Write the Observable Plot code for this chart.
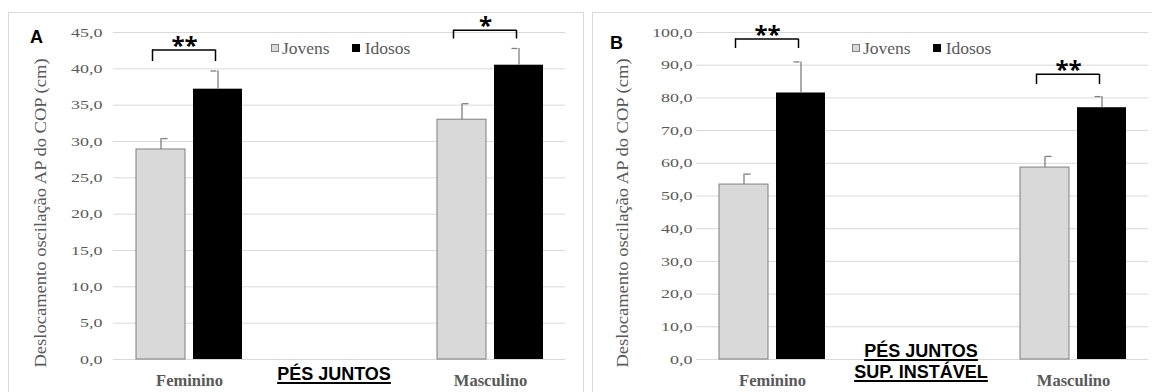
<!DOCTYPE html>
<html><head><meta charset="utf-8">
<script src="https://cdn.jsdelivr.net/npm/d3@7"></script>
<script src="https://cdn.jsdelivr.net/npm/@observablehq/plot@0.6"></script>
<style>
html,body{margin:0;padding:0;background:#fff;}
body{width:1152px;height:392px;overflow:hidden;position:relative;}
.box{position:absolute;top:12px;height:420px;border:1px solid #d9d9d9;box-sizing:border-box;}
.letter{position:absolute;font-family:"Liberation Sans",Arial,sans-serif;font-weight:bold;font-size:18px;line-height:18px;color:#000;}
.cond{position:absolute;width:220px;text-align:center;font-family:"Liberation Sans",Arial,sans-serif;font-weight:700;font-size:18px;line-height:18px;color:#000;text-decoration:underline;text-decoration-thickness:1.5px;text-underline-offset:1.5px;white-space:nowrap;}
.legend{position:absolute;top:39px;display:flex;align-items:center;font-family:"Liberation Serif",serif;font-size:17.5px;line-height:18px;color:#595959;}
.sw{width:8px;height:8px;box-sizing:border-box;display:inline-block;margin-right:3px;}
</style></head><body>
<script>
// ---- data ----
const categories = ["Feminino", "Masculino"];
const groups = ["Jovens", "Idosos"];
const yTitle = "Deslocamento oscilação AP do COP (cm)";

// Panel A — PÉS JUNTOS
const A_jovens = [28.9, 33.0];
const A_jovensErr = [1.5, 2.2];
const A_idosos = [37.2, 40.5];
const A_idososErr = [2.5, 2.3];
const A_sig = ["**", "*"];
const A_bracketTop = [42.6, 45.3];
const A_bracketLeg = [41.0, 44.1];
const A_ticks = [0, 5, 10, 15, 20, 25, 30, 35, 40, 45];
const A_condition = ["PÉS JUNTOS"];

// Panel B — PÉS JUNTOS SUP. INSTÁVEL
const B_jovens = [53.5, 58.7];
const B_jovensErr = [3.2, 3.4];
const B_idosos = [81.5, 77.0];
const B_idososErr = [9.5, 3.4];
const B_sig = ["**", "**"];
const B_bracketTop = [98.0, 87.2];
const B_bracketLeg = [95.1, 84.1];
const B_ticks = [0, 10, 20, 30, 40, 50, 60, 70, 80, 90, 100];
const B_condition = ["PÉS JUNTOS", "SUP. INSTÁVEL"];

const fmt = d => d.toFixed(1).replace(".", ",");

function panel(cfg) {
  const J = categories.map((c, i) => ({cat: c, group: groups[0], v: cfg.jov[i], e: cfg.jovErr[i]}));
  const I = categories.map((c, i) => ({cat: c, group: groups[1], v: cfg.ido[i], e: cfg.idoErr[i]}));
  const S = categories.map((c, i) => ({cat: c, label: cfg.sig[i], top: cfg.top[i], leg: cfg.leg[i]}));
  const BW = 106, BAR = 49, off = (BW - BAR) / 2;
  const svg = Plot.plot({
    width: cfg.width, height: 392,
    marginLeft: cfg.ml, marginRight: cfg.mr, marginTop: 32, marginBottom: 33,
    style: {fontFamily: "Liberation Serif", fontSize: "14px", color: "#595959", background: "transparent", overflow: "visible"},
    x: {domain: categories, paddingInner: 0.648, paddingOuter: 0.0742, label: null},
    y: {domain: [0, cfg.ticks[cfg.ticks.length - 1]], label: null},
    marks: [
      Plot.gridY(cfg.ticks, {stroke: "#d9d9d9", strokeOpacity: 1, strokeWidth: 1}),
      Plot.axisY(cfg.ticks, {tickSize: 0, tickPadding: cfg.tp, tickFormat: fmt, fill: "#595959", fontSize: 13, fontFamily: "Liberation Serif", label: null}),
      Plot.axisX({tickSize: 0, tickPadding: 15, fontWeight: "bold", fontSize: 16.5, fontFamily: "Liberation Serif", fill: "#595959", label: null}),
      Plot.barY(J, {x: "cat", y: "v", fill: "#d9d9d9", stroke: "#7f7f7f", strokeWidth: 1, insetRight: BW - BAR}),
      Plot.barY(I, {x: "cat", y: "v", fill: "#000", insetLeft: BW - BAR}),
      Plot.ruleX(J, {x: "cat", y1: "v", y2: d => d.v + d.e, stroke: "#7f7f7f", strokeWidth: 1.3, dx: -off}),
      Plot.ruleX(I, {x: "cat", y1: "v", y2: d => d.v + d.e, stroke: "#7f7f7f", strokeWidth: 1.3, dx: off}),
      Plot.tickY(J, {x: "cat", y: d => d.v + d.e, stroke: "#7f7f7f", strokeWidth: 1.3, insetLeft: off - 3, insetRight: BW - off - 3}),
      Plot.tickY(I, {x: "cat", y: d => d.v + d.e, stroke: "#7f7f7f", strokeWidth: 1.3, insetLeft: BW - off - 3, insetRight: off - 3}),
      Plot.tickY(S, {x: "cat", y: "top", stroke: "#000", strokeWidth: 1.5, insetLeft: 16, insetRight: 27}),
      Plot.ruleX(S, {x: "cat", y1: "leg", y2: "top", stroke: "#000", strokeWidth: 1.5, dx: -37}),
      Plot.ruleX(S, {x: "cat", y1: "leg", y2: "top", stroke: "#000", strokeWidth: 1.5, dx: 26}),
      Plot.text(S, {x: "cat", y: "top", text: "label", dx: -5, dy: 4, fontFamily: "Open Sans", fontWeight: "bold", fontSize: 24, fill: "#000", textAnchor: "middle", lineAnchor: "bottom"}),
      Plot.text([yTitle], {text: d => d, frameAnchor: "left", rotate: -90, dx: cfg.tdx, dy: 17, fontFamily: "Liberation Serif", fontSize: 16, fill: "#595959", textAnchor: "middle"})
    ]
  });
  // widen glyphs along the text direction (the reference text is stretched)
  const stretch = (sel, sx) => sel.each(function () {
    const t = d3.select(this);
    const tr = t.attr("transform");
    if (tr) t.attr("transform", tr + ` scale(${sx},1)`);
    else {
      const x = +t.attr("x") || 0, y = +t.attr("y") || 0;
      t.attr("x", null).attr("y", null).attr("transform", `translate(${x},${y}) scale(${sx},1)`);
    }
  });
  const s = d3.select(svg);
  stretch(s.selectAll("g[aria-label='y-axis tick label'] text"), 1.38);
  stretch(s.selectAll("text").filter(function () { return this.textContent === yTitle; }), 1.16);
  return svg;
}

function add(cls, css, html) {
  const d = document.createElement("div");
  d.className = cls;
  Object.assign(d.style, css);
  if (html != null) d.textContent = html;
  document.body.appendChild(d);
  return d;
}

add("box", {left: "8px", width: "576px"});
add("box", {left: "592px", width: "600px"});

const pa = panel({width: 575, ml: 105, mr: 18, tp: 11, tdx: -73, jov: A_jovens, jovErr: A_jovensErr, ido: A_idosos, idoErr: A_idososErr, sig: A_sig, top: A_bracketTop, leg: A_bracketLeg, ticks: A_ticks});
Object.assign(pa.style, {position: "absolute", left: "8px", top: "0px"});
document.body.appendChild(pa);

const pb = panel({width: 560, ml: 104, mr: 4, tp: 4, tdx: -74, jov: B_jovens, jovErr: B_jovensErr, ido: B_idosos, idoErr: B_idososErr, sig: B_sig, top: B_bracketTop, leg: B_bracketLeg, ticks: B_ticks});
Object.assign(pb.style, {position: "absolute", left: "592px", top: "0px"});
document.body.appendChild(pb);

add("letter", {left: "30px", top: "28px"}, "A");
add("letter", {left: "610px", top: "34px"}, "B");

A_condition.forEach((t, i) => add("cond", {left: (334 - 110) + "px", top: (364.8 + 21 * i) + "px"}, t));
B_condition.forEach((t, i) => add("cond", {left: (921 - 110) + "px", top: (341.5 + 21 * i) + "px"}, t));

function legend(left) {
  const lg = add("legend", {left: left + "px"});
  lg.innerHTML =
    `<span class="sw" style="background:#d9d9d9;border:1px solid #7f7f7f"></span><span style="margin-right:22px">${groups[0]}</span>` +
    `<span class="sw" style="background:#000;margin-right:5px"></span><span>${groups[1]}</span>`;
}
legend(271);
legend(852);
</script>
</body></html>
